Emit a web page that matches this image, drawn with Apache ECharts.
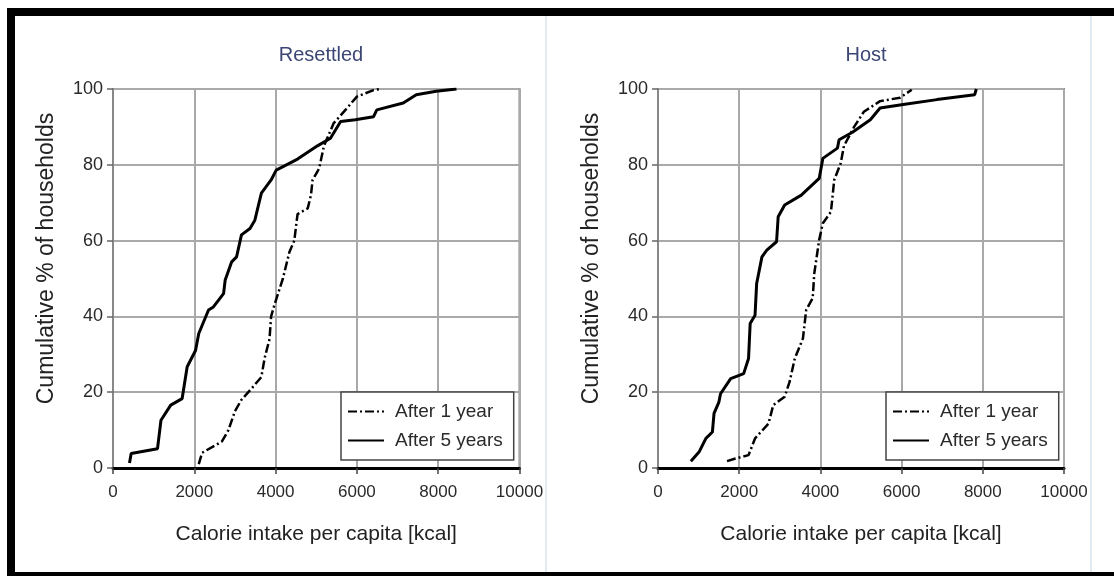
<!DOCTYPE html>
<html>
<head>
<meta charset="utf-8">
<title>Calorie intake</title>
<script src="https://cdn.jsdelivr.net/npm/echarts@6/dist/echarts.min.js"></script>
<style>
  html, body { margin: 0; padding: 0; background: #fff; }
  #chart { width: 1114px; height: 576px; }
</style>
</head>
<body>
<div id="chart"></div>
<script>
// kcal per capita (x) and cumulative % (y)
var xTicks = [0, 2000, 4000, 6000, 8000, 10000];
var yTicks = [0, 20, 40, 60, 80, 100];

var resettled1yX = [2110, 2190, 2680, 2840, 3000, 3160, 3410, 3650, 3730, 3850, 3890, 3970, 4060, 4180, 4340, 4460, 4540, 4790, 4870, 4910, 5070, 5190, 5430, 5760, 6000, 6410, 6570];
var resettled1yY = [1, 4, 7, 10, 15, 18, 21, 24, 29, 34, 40, 43, 46, 50, 57, 60, 67, 68.5, 72, 76, 79, 85, 91, 95, 98, 99.7, 100];

var resettled5yX = [406, 447, 1095, 1180, 1420, 1700, 1825, 2030, 2110, 2350, 2470, 2720, 2760, 2920, 3040, 3160, 3370, 3490, 3650, 3890, 4015, 4540, 5030, 5350, 5600, 5960, 6410, 6490, 7140, 7460, 7950, 8450];
var resettled5yY = [1.3, 3.8, 5.1, 12.6, 16.6, 18.3, 26.7, 31, 35.5, 41.7, 42.5, 46, 49.6, 54.4, 55.7, 61.5, 63.2, 65.4, 72.5, 76, 78.6, 81.5, 85, 87, 91.4, 91.9, 92.7, 94.5, 96.3, 98.5, 99.4, 100];

var host1yX = [1700, 1910, 2230, 2390, 2720, 2840, 3120, 3240, 3370, 3570, 3650, 3810, 3850, 3970, 4060, 4260, 4340, 4500, 4580, 4830, 5070, 5470, 5960, 6250];
var host1yY = [1.8, 2.5, 3.4, 7.8, 11.7, 16.6, 18.8, 22.7, 28.9, 34.2, 41.7, 44.8, 51.4, 60.2, 64.6, 67.6, 76, 80.4, 85, 90, 94, 96.8, 97.7, 99.8];

var host5yX = [810, 1010, 1180, 1340, 1380, 1500, 1540, 1790, 2110, 2230, 2270, 2390, 2430, 2560, 2680, 2920, 2960, 3120, 3530, 3970, 4060, 4420, 4460, 4790, 5230, 5470, 6040, 6870, 7800, 7840];
var host5yY = [1.8, 4.2, 7.8, 9.5, 14.4, 17.4, 19.6, 23.6, 24.9, 28.9, 38.1, 40.3, 48.7, 55.7, 57.5, 59.7, 66.3, 69.4, 72, 76.4, 81.7, 84.4, 86.6, 88.6, 91.9, 95, 95.9, 97.2, 98.5, 100];

var titles = ['Resettled', 'Host'];
var seriesNames = ['After 1 year', 'After 5 years'];

function pairs(xs, ys) {
  var out = [];
  for (var i = 0; i < xs.length; i++) out.push([xs[i], ys[i]]);
  return out;
}

var sans = "'Liberation Sans', Arial, sans-serif";
var gridLefts = [113, 658];

function xAxisFor(i) {
  return {
    type: 'value', gridIndex: i, min: 0, max: 10000, interval: 2000,
    name: 'Calorie intake per capita [kcal]', nameLocation: 'middle', nameGap: 56,
    nameTextStyle: { fontFamily: sans, fontSize: 21, color: '#222' },
    axisLine: { show: true, onZero: false, lineStyle: { color: '#000', width: 3 } },
    axisTick: { show: true, length: 6, lineStyle: { color: '#444', width: 1.5 } },
    axisLabel: { fontFamily: sans, fontSize: 17, color: '#2a2a2a', margin: 16,
      formatter: function (v) { return xTicks.indexOf(v) >= 0 ? String(v) : ''; } },
    splitLine: { show: true, lineStyle: { color: '#a9a9a9', width: 2 } }
  };
}
function yAxisFor(i) {
  return {
    type: 'value', gridIndex: i, min: 0, max: 100, interval: 20,
    name: 'Cumulative % of households', nameLocation: 'middle', nameGap: 55,
    nameTextStyle: { fontFamily: sans, fontSize: 23, color: '#222', padding: [0, 0, 0, 40] },
    axisLine: { show: true, lineStyle: { color: '#888', width: 2 } },
    axisTick: { show: true, length: 6, lineStyle: { color: '#666', width: 1.5 } },
    axisLabel: { fontFamily: sans, fontSize: 18, color: '#2a2a2a', margin: 10,
      formatter: function (v) { return yTicks.indexOf(v) >= 0 ? String(v) : ''; } },
    splitLine: { show: true, lineStyle: { color: '#a9a9a9', width: 2 } }
  };
}

var dashDot = { color: '#000', width: 2.5, type: [9, 3, 2, 3] };
var solid = { color: '#000', width: 3, type: 'solid' };

function lineSeries(name, i, data, style) {
  return {
    name: name, type: 'line', xAxisIndex: i, yAxisIndex: i,
    data: data, symbol: 'none', lineStyle: style, itemStyle: { color: '#000' },
    z: 5, animation: false
  };
}

var option = {
  backgroundColor: '#fff',
  animation: false,
  title: titles.map(function (t, i) {
    return { text: t, left: gridLefts[i] + 203, top: 40, textAlign: 'center',
      textStyle: { fontFamily: sans, fontSize: 20, fontWeight: 'normal', color: '#3c4674' } };
  }),
  grid: [
    { left: 113, right: 594.5, top: 89, bottom: 108, show: true, borderColor: '#888', borderWidth: 2 },
    { left: 658, right: 50, top: 89, bottom: 108, show: true, borderColor: '#888', borderWidth: 2 }
  ],
  legend: [0, 1].map(function (i) {
    return {
      data: seriesNames, orient: 'vertical', left: gridLefts[i] + 228, top: 392,
      itemWidth: 36, itemHeight: 18, itemGap: 10, padding: [10, 11, 10, 6],
      backgroundColor: '#fff', borderColor: '#444', borderWidth: 1.5,
      itemStyle: { opacity: 0 },
      textStyle: { fontFamily: sans, fontSize: 19, color: '#2a2a2a', padding: [0, 0, 0, 6] },
      selectedMode: false
    };
  }),
  xAxis: [xAxisFor(0), xAxisFor(1)],
  yAxis: [yAxisFor(0), yAxisFor(1)],
  series: [
    lineSeries(seriesNames[0], 0, pairs(resettled1yX, resettled1yY), dashDot),
    lineSeries(seriesNames[1], 0, pairs(resettled5yX, resettled5yY), solid),
    lineSeries(seriesNames[0], 1, pairs(host1yX, host1yY), dashDot),
    lineSeries(seriesNames[1], 1, pairs(host5yX, host5yY), solid)
  ],
  graphic: [
    // outer frame of the scanned figure
    { type: 'rect', shape: { x: 7, y: 8, width: 1107, height: 8 }, style: { fill: '#000' }, silent: true },
    { type: 'rect', shape: { x: 7, y: 8, width: 8, height: 568 }, style: { fill: '#000' }, silent: true },
    { type: 'rect', shape: { x: 7, y: 572, width: 1107, height: 4 }, style: { fill: '#000' }, silent: true },
    // faint panel separators
    { type: 'rect', shape: { x: 545, y: 16, width: 2, height: 556 }, style: { fill: '#e2eaf1' }, silent: true },
    { type: 'rect', shape: { x: 1090, y: 16, width: 2, height: 556 }, style: { fill: '#e2eaf1' }, silent: true }
  ]
};

var myChart = echarts.init(document.getElementById('chart'));
myChart.setOption(option);
</script>
</body>
</html>
